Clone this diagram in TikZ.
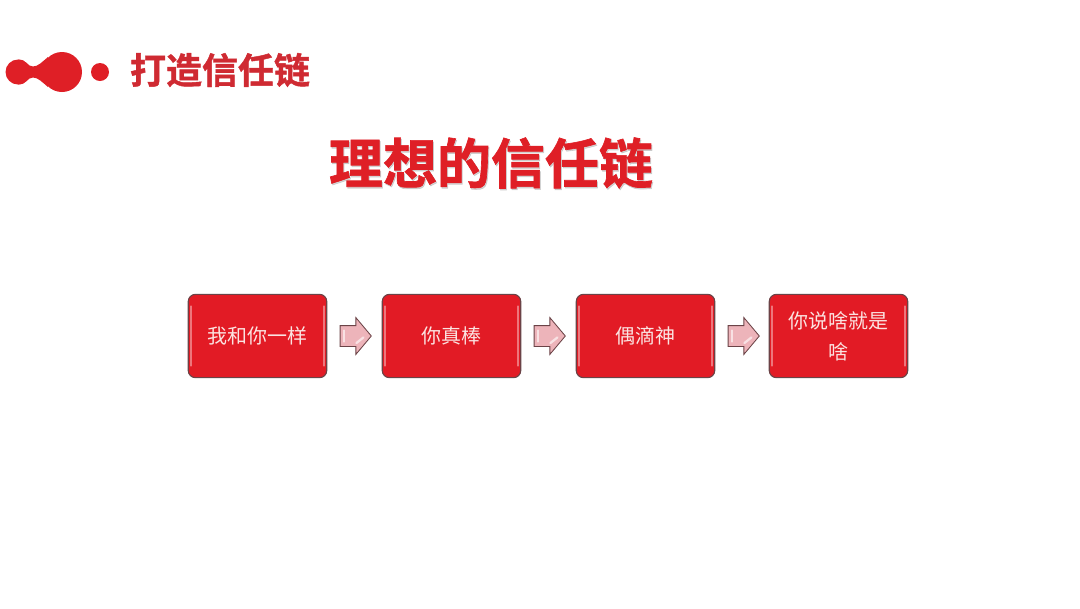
\documentclass[tikz,border=0pt]{standalone}
\usepackage{fontspec}
\setmainfont{Noto Sans CJK SC}
\newfontfamily\cjkheavy[FakeBold=1.2]{Noto Sans CJK SC Bold}
\usetikzlibrary{positioning,shapes.arrows}
\definecolor{logored}{HTML}{DF1F26}
\definecolor{headred}{HTML}{CF2A32}
\definecolor{boxred}{HTML}{E21B25}
\definecolor{boxline}{HTML}{6B4347}
\definecolor{arrowpink}{HTML}{EDB4BA}
\definecolor{boxtext}{HTML}{FBE3E1}
\tikzset{
  chainbox/.style={draw=boxline, line width=0.8pt, fill=boxred, rounded corners=5pt,
    minimum width=3.46cm, minimum height=2.08cm, inner sep=0pt, text width=3.0cm,
    align=center, text=boxtext, font=\fontsize{14.2}{22}\selectfont},
  chainarrow/.style={draw=boxline, line width=0.6pt, fill=arrowpink, single arrow,
    inner xsep=0pt, inner ysep=0.25cm, minimum height=0.78cm,
    single arrow head extend=0.2cm, single arrow tip angle=100},
  gloss/.style={white!40!boxred, line width=1.8pt, line cap=round},
  arrowgloss/.style={white!60!arrowpink, line width=1.6pt, line cap=round}
}
\begin{document}
\begin{tikzpicture}[x=0.025cm, y=-0.025cm]
  \useasboundingbox (0,0) rectangle (1080,608);
  % 标志
  \coordinate (L) at (18,72);
  \coordinate (M) at (62,72);
  \fill[logored] (L) circle (12.5);
  \fill[logored] (M) circle (20);
  \fill[logored] (18,59.5) .. controls (27,59.5) and (27,66.5) .. (33,66.5)
    .. controls (38,66.5) and (42,62) .. (48,57)
    -- (48,87) .. controls (42,82) and (38,77.5) .. (33,77.5)
    .. controls (27,77.5) and (27,84.5) .. (18,84.5) -- cycle;
  \fill[logored] (100,72) circle (9);
  % 页眉
  \node[text=headred, font=\cjkheavy\fontsize{25.6}{26}\selectfont] (header) at (220,70) {打造信任链};
  % 大标题（带阴影）
  \node[text=black!35, opacity=0.45, font=\cjkheavy\fontsize{38.4}{39}\selectfont] (titleshadow) at (492,164.5) {理想的信任链};
  \node[text=logored, font=\cjkheavy\fontsize{38.4}{39}\selectfont] (title) at (491,163) {理想的信任链};
  % 四个方框
  \node[chainbox] (boxA) at (257.5,336) {我和你一样};
  \node[chainbox] (boxB) at (451.5,336) {你真棒};
  \node[chainbox] (boxC) at (645.5,336) {偶滴神};
  \node[chainbox] (boxD) at (838.5,336) {你说啥就是\\啥};
  % 箭头
  \node[chainarrow, right=0.31cm of boxA] (arrowA) {};
  \node[chainarrow, right=0.31cm of boxB] (arrowB) {};
  \node[chainarrow, right=0.31cm of boxC] (arrowC) {};
  % 高光
  \foreach \b in {boxA,boxB,boxC,boxD}{
    \draw[gloss] ([xshift=2.4pt,yshift=-9pt]\b.north west) -- ([xshift=2.4pt,yshift=9pt]\b.south west);
    \draw[gloss] ([xshift=-2.4pt,yshift=-9pt]\b.north east) -- ([xshift=-2.4pt,yshift=9pt]\b.south east);
  }
  \foreach \a in {arrowA,arrowB,arrowC}{
    \draw[arrowgloss] ([xshift=3pt,yshift=4pt]\a.west) -- ([xshift=3pt,yshift=-4pt]\a.west);
    \draw[arrowgloss] ([xshift=-6pt,yshift=-1pt]\a.east) -- ([xshift=-11pt,yshift=-5pt]\a.east);
  }
\end{tikzpicture}
\end{document}
